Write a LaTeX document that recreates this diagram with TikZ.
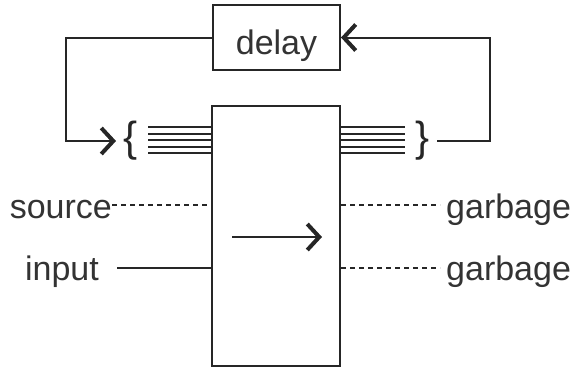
\documentclass[tikz,border=0pt]{standalone}
\usepackage{fontspec}
\setmainfont{Liberation Sans}
\usetikzlibrary{arrows.meta}
\begin{document}
\begin{tikzpicture}[x=1pt,y=-1pt,
  box/.style={draw=black!85,line width=2pt,fill=white,inner sep=0pt},
  lbl/.style={font=\fontsize{34}{36}\selectfont,text=black!80,inner sep=0pt},
  brc/.style={font=\fontsize{42}{44}\selectfont,text=black!85,inner sep=0pt},
  wire/.style={draw=black!85,line width=2pt},
  dwire/.style={draw=black!85,line width=1.5pt,dash pattern=on 5pt off 4pt},
  arr/.style={wire,-{Straight Barb[length=12pt,width=26pt,line width=4pt]}}]
\useasboundingbox (0,0) rectangle (577,368);
\node[box,lbl,minimum width=127pt,minimum height=65pt,text height=34pt,text depth=0pt] (delay) at (276.5,37.5) {delay};
\node[box,minimum width=128pt,minimum height=260pt] (main) at (276,236) {};
\node[brc] (lb) at (131,141) {\{};
\node[brc] (rb) at (423,141) {\}};
\coordinate (lin) at (116,141);
\coordinate (rout) at (437,141);
\coordinate (lcorner) at (66,40);
\coordinate (rcorner) at (490,141);
% feedback loop
\draw[arr] (delay.west) -- (delay.west -| lcorner) |- (lin);
\draw[arr] (rout) -- (rcorner) |- (delay.east);
% bundles
\foreach \y in {127,133.5,140,146.5,153}{
  \draw[wire] (148,\y) -- (main.west |- 0,\y);
  \draw[wire] (main.east |- 0,\y) -- (405,\y);
}
% inputs
\node[lbl,anchor=east] (source) at (112,210) {source};
\node[lbl] (input) at (62,272) {input};
\node[lbl,anchor=west] (g1) at (446,210) {garbage};
\node[lbl,anchor=west] (g2) at (446,272) {garbage};
\draw[dwire] (source.east |- 0,205) -- (main.west |- 0,205);
\draw[wire] (117,268) -- (main.west |- 0,268);
\draw[dwire] (main.east |- 0,205) -- (440,205);
\draw[dwire] (main.east |- 0,268) -- (440,268);
% inner arrow
\coordinate (ia) at (232,237);
\coordinate (ib) at (322,237);
\draw[arr] (ia) -- (ib);
\end{tikzpicture}
\end{document}
